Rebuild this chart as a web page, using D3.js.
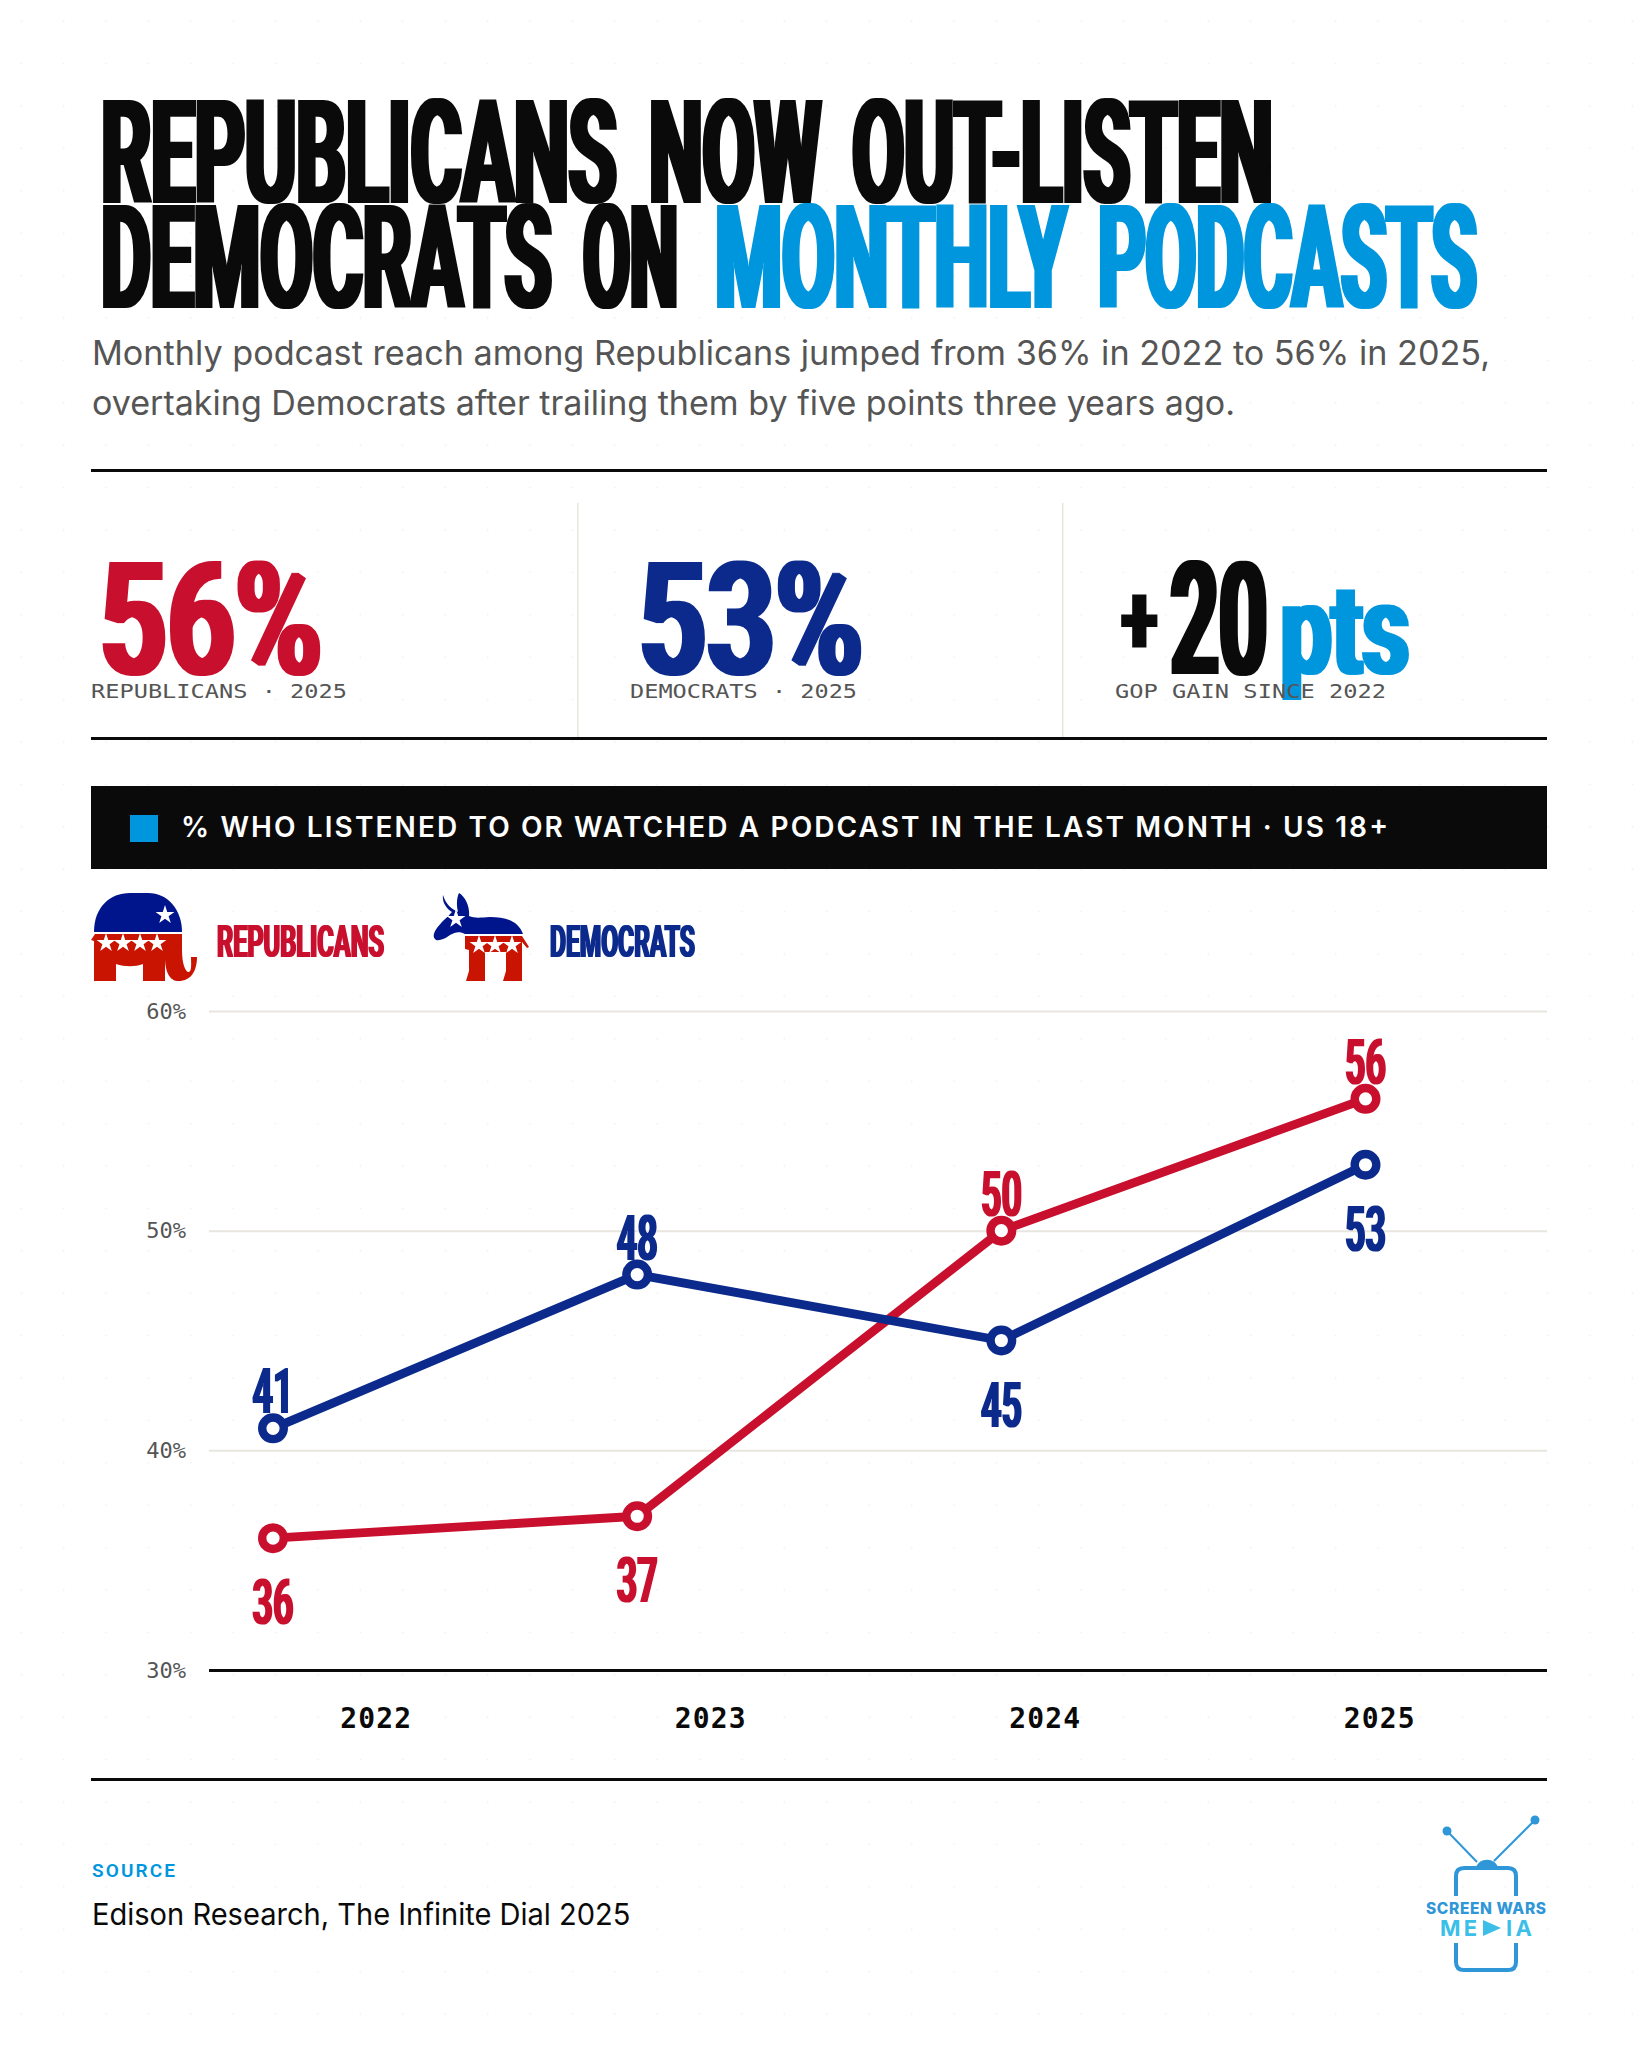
<!DOCTYPE html>
<html><head><meta charset="utf-8">
<script src="https://cdn.jsdelivr.net/npm/d3@7/dist/d3.min.js"></script>
<style>html,body{margin:0;padding:0;background:#fff}svg{display:block}</style></head>
<body><div id="chart"></div>
<script>
const years=["2022","2023","2024","2025"];
const republicans=[36,37,50,56];
const democrats=[41,48,45,53];
const repSides=["below","below","above","above"];
const demSides=["above","above","below","below"];
const yTicks=[30,40,50,60];
const INK="#0a0a0a",BLUE="#0096de",RED="#c8102e",NAVY="#0b2a8c",GREY="#555555",GRID="#e8e6df";
const COND="'Liberation Sans Narrow','Roboto',sans-serif",MONO="'DejaVu Sans Mono',monospace",INTER="Inter,sans-serif";

const svg=d3.select("#chart").append("svg").attr("width",1638).attr("height",2048).attr("viewBox","0 0 1638 2048");
const defs=svg.append("defs");
const pat=defs.append("pattern").attr("id","dots").attr("width",42.4).attr("height",42.4).attr("patternUnits","userSpaceOnUse");
pat.append("circle").attr("cx",21.2).attr("cy",21.2).attr("r",1.1).attr("fill","#f3f2ee");
[["thick3",3.2],["thick2",2.6],["thick1",1.1],["thickL",1]].forEach(([id,r])=>{
  defs.append("filter").attr("id",id).attr("x","-5%").attr("y","-5%").attr("width","110%").attr("height","110%")
    .attr("color-interpolation-filters","sRGB")
    .append("feMorphology").attr("operator","dilate").attr("radius",r+" 0");
});
svg.append("rect").attr("width",1638).attr("height",2048).attr("fill","#fff");
svg.append("rect").attr("width",1638).attr("height",2048).attr("fill","url(#dots)");

function cond(t,x0,x1,base,cap,color,f){
  const r=f==="thick3"?3.2:f==="thick2"?2.6:f==="thick1"?1.1:f==="thickL"?1:0;
  const n=svg.append("text").text(t).attr("x",x0+r).attr("y",base)
    .attr("font-family",COND).attr("font-weight",700).attr("font-size",cap/0.688)
    .attr("fill",color).attr("textLength",x1-x0-2*r).attr("lengthAdjust","spacingAndGlyphs");
  if(f)n.attr("filter",`url(#${f})`);
  return n;
}
function plain(t,x,base,size,color,family,weight,len){
  const n=svg.append("text").text(t).attr("x",x).attr("y",base).attr("font-size",size)
    .attr("fill",color).attr("font-family",family).attr("font-weight",weight||400);
  if(len)n.attr("textLength",len).attr("lengthAdjust","spacingAndGlyphs");
  return n;
}
function rule(y,h,x0,x1,c){svg.append("rect").attr("x",x0).attr("y",y).attr("width",x1-x0).attr("height",h).attr("fill",c);}

// title
cond("REPUBLICANS",98,620,203,100,INK,"thick3");
cond("NOW",646,824,203,100,INK,"thick3");
cond("OUT-LISTEN",849,1276,203,100,INK,"thick3");
cond("DEMOCRATS",98,555,308,100,INK,"thick3");
cond("ON",580,681,308,100,INK,"thick3");
cond("MONTHLY",712,1070,308,100,BLUE,"thick3");
cond("PODCASTS",1095,1480,308,100,BLUE,"thick3");
// subtitle
plain("Monthly podcast reach among Republicans jumped from 36% in 2022 to 56% in 2025,",92,365,33.5,GREY,INTER,400,1398);
plain("overtaking Democrats after trailing them by five points three years ago.",92,415,33.5,GREY,INTER,400,1143);
rule(469,3,91,1547,INK);
// stats
[577,1062].forEach(x=>svg.append("rect").attr("x",x).attr("y",503).attr("width",1.5).attr("height",234).attr("fill",GRID));
cond("56%",97,325,674,108,RED,"thick2");
cond("53%",636,866,674,108,NAVY,"thick2");
cond("+",1120,1159,655,70,INK,"thick2");
cond("20",1168,1270,674,108,INK,"thick2");
cond("pts",1278,1412,674,88,BLUE,"thick2");
plain("REPUBLICANS · 2025",91,698,20,GREY,MONO,400,256);
plain("DEMOCRATS · 2025",630,698,20,GREY,MONO,400,227);
plain("GOP GAIN SINCE 2022",1115,698,20,GREY,MONO,400,271);
rule(737,3,91,1547,INK);
// band
rule(786,83,91,1547,INK);
svg.append("rect").attr("x",130).attr("y",815).attr("width",28).attr("height",27).attr("fill",BLUE);
plain("% WHO LISTENED TO OR WATCHED A PODCAST IN THE LAST MONTH · US 18+",181,837,28,"#fff",INTER,600,1207).attr("lengthAdjust","spacing");

// legend icons
const ICON_BLUE="#00148c",ICON_RED="#c81400";
function star(cx,cy,r,fill){
  svg.append("path").attr("d",d3.symbol(d3.symbolStar,r*r*2.6)()).attr("transform",`translate(${cx},${cy})`).attr("fill",fill);
}
svg.append("path").attr("fill",ICON_BLUE).attr("d","M94,932 C94,907 110,893 130,893 L148,893 C168,893 182,910 182,932 Z");
svg.append("path").attr("fill",ICON_RED).attr("d","M95,934 L182,934 L182,950 C182,965 186,973 189,972 C192,971 191,962 191,957 L197,957 C197,972 190,982 177,981 C168,980 165,968 165,958 L165,981 L143,981 L143,964 C135,967 125,967 116,964 L116,981 L94,981 L94,941 L91,940 Z");
star(165,915,6.5,"#fff");
[106,123,140,157].forEach(x=>star(x,943,6.5,"#fff"));
cond("REPUBLICANS",216,385,957,31,RED,"thick1");
svg.append("path").attr("fill",ICON_BLUE).attr("d","M443,895 C446,905 452,909 458,912 C456,905 457,897 459,893 C466,897 470,908 469,916 C474,918 478,918 490,917 C505,917 518,920 523,934 L465,934 C460,931 455,932 450,935 C445,939 437,942 435,939 C431,935 437,927 444,920 C449,916 450,914 452,912 C446,908 442,902 443,895 Z");
star(456,919,6.5,"#fff");
svg.append("path").attr("fill",ICON_RED).attr("d","M465,936 L522,936 L529,947 L527,948 L522,942 L522,981 L503,981 L506,971 L506,952 L485,952 L485,981 L466,981 L469,971 L469,950 L465,949 Z");
[479,495,512].forEach(x=>star(x,945,6.5,"#fff"));
cond("DEMOCRATS",549,696,957,31,NAVY,"thick1");

// chart
const y=d3.scaleLinear().domain([30,60]).range([1670,1011]);
const xBand=d3.scaleBand().domain(years).range([209,1547]);
const xPoint=d3.scalePoint().domain(years).range([273,1365.5]);

const gridG=svg.append("g").attr("transform","translate(209,0)")
  .call(d3.axisLeft(y).tickValues(yTicks).tickSize(-1338).tickFormat(d=>d+"%").tickPadding(23));
gridG.select(".domain").remove();
gridG.selectAll(".tick line").attr("stroke",d=>d===30?INK:GRID).attr("stroke-width",d=>d===30?3:2);
gridG.selectAll(".tick text").attr("font-family",MONO).attr("font-size",22).attr("fill",GREY);
const xG=svg.append("g").attr("transform","translate(0,1670)")
  .call(d3.axisBottom(xBand).tickSize(0).tickPadding(38));
xG.select(".domain").remove();
xG.selectAll(".tick text").attr("font-family",MONO).attr("font-size",28).attr("font-weight",700).attr("fill",INK).attr("letter-spacing",1.2);

const line=d3.line().x(d=>xPoint(d.year)).y(d=>y(d.v));
const series=[
 {name:"Republicans",values:republicans,color:RED,sides:repSides},
 {name:"Democrats",values:democrats,color:NAVY,sides:demSides}];
series.forEach(s=>{
  const pts=years.map((yr,i)=>({year:yr,v:s.values[i],side:s.sides[i]}));
  svg.append("path").datum(pts).attr("d",line).attr("fill","none").attr("stroke",s.color)
    .attr("stroke-width",8.8).attr("stroke-linejoin","round");
  svg.selectAll(null).data(pts).join("circle").attr("cx",d=>xPoint(d.year)).attr("cy",d=>y(d.v))
    .attr("r",10.8).attr("fill","#fff").attr("stroke",s.color).attr("stroke-width",8.4);
  svg.selectAll(null).data(pts).join("text").text(d=>d.v)
    .attr("x",d=>xPoint(d.year)-21.5+1.1)
    .attr("y",d=>y(d.v)+(d.side==="above"?-15:86))
    .attr("font-family",COND).attr("font-weight",700).attr("font-size",43/0.688)
    .attr("fill",s.color).attr("textLength",41).attr("lengthAdjust","spacingAndGlyphs")
    .attr("filter","url(#thick1)");
});
rule(1778,3,91,1547,INK);

// source
plain("SOURCE",92,1877,19,BLUE,"Roboto",600,83).attr("lengthAdjust","spacing");
plain("Edison Research, The Infinite Dial 2025",92,1925,30,INK,INTER,400,538.5);

// logo
const LOGO="#2f96d8",LOGO2="#3bbfe8";
const logo=svg.append("g");
logo.append("path").attr("fill","none").attr("stroke",LOGO).attr("stroke-width",2).attr("d","M1477,1862 L1447,1831 M1494,1861 L1535,1820");
logo.append("circle").attr("cx",1447).attr("cy",1831).attr("r",4.5).attr("fill",LOGO);
logo.append("circle").attr("cx",1535).attr("cy",1820).attr("r",4.5).attr("fill",LOGO);
logo.append("path").attr("fill",LOGO).attr("d","M1476,1868 C1478,1857 1496,1857 1498,1868 Z");
logo.append("path").attr("fill","none").attr("stroke",LOGO).attr("stroke-width",4)
  .attr("d","M1456,1896 L1456,1876 Q1456,1868 1464,1868 L1508,1868 Q1516,1868 1516,1876 L1516,1896 M1456,1943 L1456,1962 Q1456,1970 1464,1970 L1508,1970 Q1516,1970 1516,1962 L1516,1943");
plain("SCREEN WARS",1426,1914,15.5,LOGO,INTER,800,120).attr("lengthAdjust","spacing");
plain("ME",1440,1936,22,LOGO2,INTER,700,37).attr("lengthAdjust","spacing");
logo.append("path").attr("fill",LOGO2).attr("d","M1483,1920 L1501,1928 L1483,1936 Z");
plain("IA",1506,1936,22,LOGO2,INTER,700,26).attr("lengthAdjust","spacing");
</script></body></html>
